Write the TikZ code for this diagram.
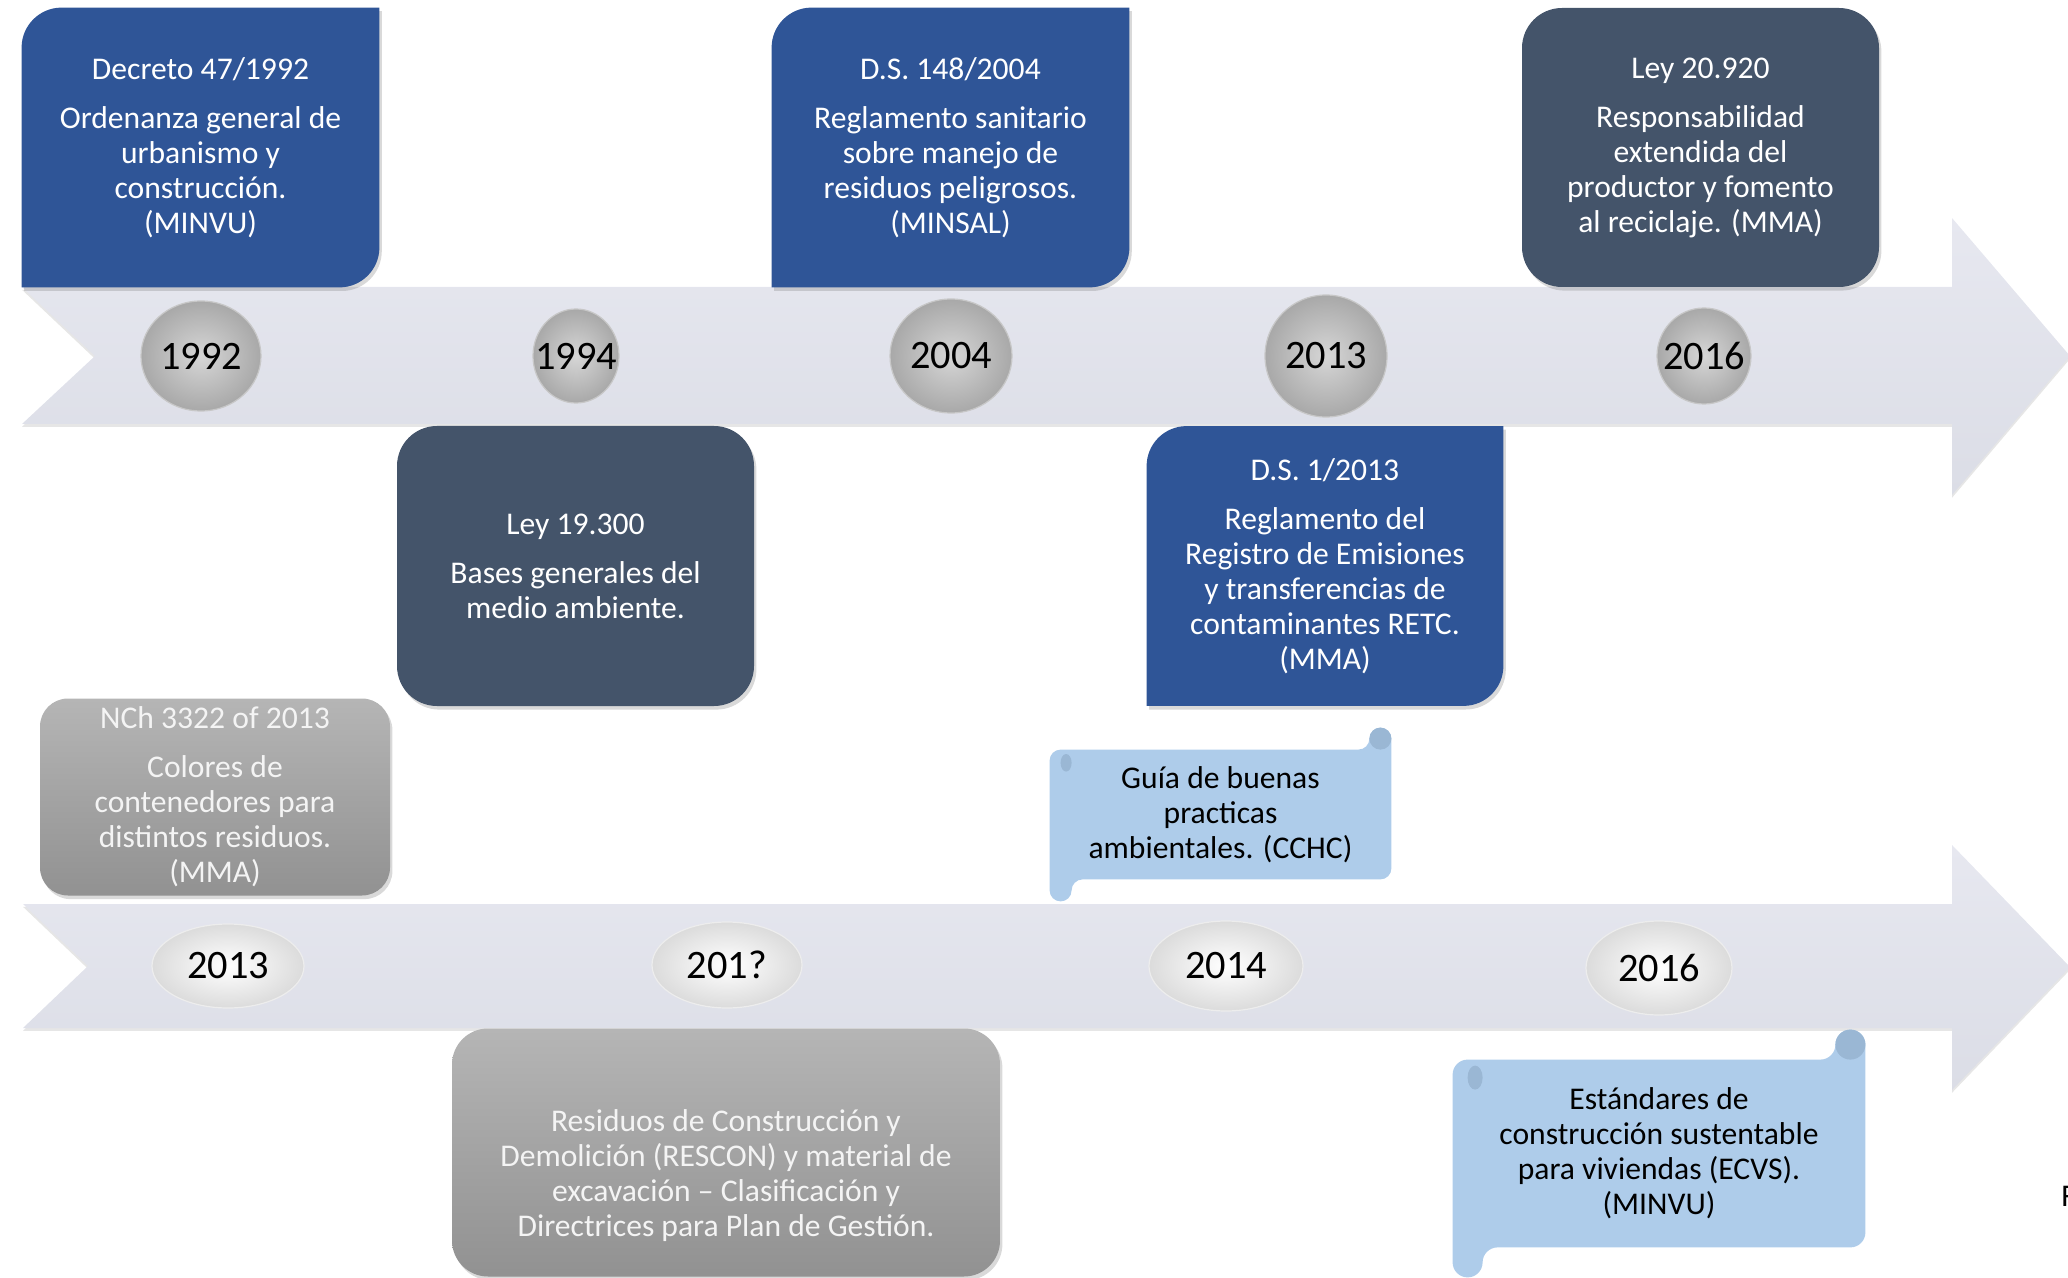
\documentclass[tikz,border=0pt]{standalone}
\usepackage{fontspec}
\setmainfont{Carlito}
\usepackage{xcolor}
\usepackage{tikz}
\usetikzlibrary{positioning,shapes.geometric,shadows,backgrounds}
\definecolor{lawblue}{RGB}{47,85,151}
\definecolor{lawslate}{RGB}{68,84,106}
\definecolor{bandtop}{RGB}{231,232,240}
\definecolor{bandbot}{RGB}{219,221,230}
\definecolor{scrollblue}{RGB}{174,204,234}
\definecolor{scrolldark}{RGB}{154,183,212}
\definecolor{nchtext}{RGB}{244,244,244}
\tikzset{
  boxtext/.style  = {align=center, font=\fontsize{15.8}{17.5}\selectfont, inner sep=4pt},
  softshadow/.style = {drop shadow={shadow xshift=1.2pt, shadow yshift=-1.8pt, opacity=.3}},
  lawbox/.style   = {boxtext, text=white, minimum width=178.5pt, minimum height=139.5pt},
  slatebox/.style = {lawbox, fill=lawslate, rounded corners=20pt, softshadow},
  greybox/.style  = {boxtext, text=nchtext, top color=black!29, bottom color=black!43, rounded corners=14pt, softshadow},
  scrollbox/.style = {boxtext, text=black},
  band/.style     = {top color=bandtop, bottom color=bandbot, drop shadow={shadow xshift=0pt, shadow yshift=-1.4pt, opacity=.2}},
  yeartop/.style  = {ellipse, inner sep=0pt, inner color=black!16, outer color=black!34, draw=black!22, line width=.6pt},
  yearbot/.style  = {ellipse, inner sep=0pt, inner color=white, outer color=black!14, draw=black!7, line width=.6pt},
  yeartext/.style = {font=\fontsize{20.2}{24}\selectfont, text=black, inner sep=0pt},
}
% blue law box: only top left and bottom right corners rounded
\newcommand{\diagfill}[1]{%
  \fill[lawblue, softshadow] (#1.south west) -- ([yshift=-20pt]#1.north west)
    arc[start angle=180, end angle=90, radius=20pt] -- (#1.north east)
    -- ([yshift=20pt]#1.south east)
    arc[start angle=0, end angle=-90, radius=20pt] -- cycle;}
% scroll: node, curl size, half curl size
\newcommand{\scrollfill}[3]{%
  \fill[scrollblue, rounded corners=#3]
    ([yshift=-#2]#1.south west) -- (#1.north west) -- ([xshift=-#2]#1.north east)
    -- ([xshift=-#2, yshift=#2]#1.north east) -- ([yshift=#2]#1.north east)
    -- (#1.south east) -- ([xshift=#2]#1.south west)
    -- ([xshift=#2, yshift=-#2]#1.south west) -- cycle;
  \fill[scrolldark] ([xshift=-#3, yshift=#3]#1.north east) circle[radius=#3];
  \fill[scrolldark] ([xshift=1.5*#3, yshift=-1.2*#3]#1.north west) ellipse[x radius=.5*#3, y radius=.8*#3];}

\begin{document}
\begin{tikzpicture}[x=0.5pt, y=-0.5pt]
  \useasboundingbox (0,0) rectangle (2068,1278);

  % top row
  \node[lawbox] (dec) at (200.5,147.5) {Decreto 47/1992\\[7pt]Ordenanza general de\\urbanismo y\\construcción.\\(MINVU)};
  \node[lawbox] (ds148) at (950.5,147.5) {D.S. 148/2004\\[7pt]Reglamento sanitario\\sobre manejo de\\residuos peligrosos.\\(MINSAL)};
  \node[slatebox] (ley20920) at (1700.5,147.5) {Ley 20.920\\[7pt]Responsabilidad\\extendida del\\productor y fomento\\al reciclaje. (MMA)};
  \node[slatebox, minimum height=140pt] (ley19300) at (575.5,566) {Ley 19.300\\[7pt]Bases generales del\\medio ambiente.};
  \node[lawbox, minimum width=178pt] (ds1) at (1325,566) {D.S. 1/2013\\[7pt]Reglamento del\\Registro de Emisiones\\y transferencias de\\contaminantes RETC.\\(MMA)};

  % bottom row
  \node[greybox, minimum width=175pt, minimum height=98.5pt] (nch) at (215,797) {NCh 3322 of 2013\\[7pt]Colores de\\contenedores para\\distintos residuos.\\(MMA)};
  \node[greybox, rounded corners=18pt, minimum width=274pt, minimum height=124pt] (rescon) at (726,1152.5) {};
  \node[boxtext, text=nchtext] (rescontext) at (726,1176) {Residuos de Construcción y\\Demolición (RESCON) y material de\\excavación – Clasificación y\\Directrices para Plan de Gestión.};
  \node[scrollbox, minimum width=170.5pt, minimum height=64.5pt] (guia) at (1220.5,814.5) {Guía de buenas\\practicas\\ambientales. (CCHC)};
  \node[scrollbox, minimum width=206pt, minimum height=93.5pt] (ecvs) at (1659,1153.5) {Estándares de\\construcción sustentable\\para viviendas (ECVS).\\(MINVU)};

  \begin{scope}[on background layer]
    \path[band] (22,287) -- (1952,287) -- (1952,218) -- (2070,356) -- (1952,495)
      -- (1952,424) -- (22,424) -- (95,356) -- cycle;
    \path[band] (23,904) -- (1952,904) -- (1952,845) -- (2070,967) -- (1952,1090)
      -- (1952,1028) -- (23,1028) -- (88,966) -- cycle;
    \diagfill{dec}
    \diagfill{ds148}
    \diagfill{ds1}
    \scrollfill{guia}{11pt}{5.5pt}
    \scrollfill{ecvs}{15pt}{7.5pt}
  \end{scope}

  % years on the upper arrow
  \node[yeartop, minimum width=60pt, minimum height=55pt] (y1992) at (201,356) {};
  \node[yeartop, minimum width=43pt, minimum height=47pt] (y1994) at (576,356) {};
  \node[yeartop, minimum width=61pt, minimum height=57pt] (y2004) at (951,356) {};
  \node[yeartop, minimum width=61pt, minimum height=61pt] (y2013a) at (1326,356) {};
  \node[yeartop, minimum width=47pt, minimum height=48pt] (y2016a) at (1704,356) {};
  \node[yeartext] (t1992) at (y1992) {1992};
  \node[yeartext] (t1994) at (y1994) {1994};
  \node[yeartext] (t2004) at (y2004) {2004};
  \node[yeartext] (t2013a) at (y2013a) {2013};
  \node[yeartext] (t2016a) at (y2016a) {2016};

  % years on the lower arrow
  \node[yearbot, minimum width=76pt, minimum height=42pt] (y2013b) at (228,966) {};
  \node[yearbot, minimum width=75pt, minimum height=43pt] (y201x) at (727,965) {};
  \node[yearbot, minimum width=77pt, minimum height=45pt] (y2014) at (1226,966) {};
  \node[yearbot, minimum width=73pt, minimum height=47pt] (y2016b) at (1659,968) {};
  \node[yeartext] (t2013b) at (y2013b) {2013};
  \node[yeartext] (t201x) at (y201x) {201?};
  \node[yeartext] (t2014) at (y2014) {2014};
  \node[yeartext] (t2016b) at (y2016b) {2016};

  \node[boxtext, text=black, anchor=west, inner sep=0pt] (cutF) at (2061,1196) {F};
\end{tikzpicture}
\end{document}
